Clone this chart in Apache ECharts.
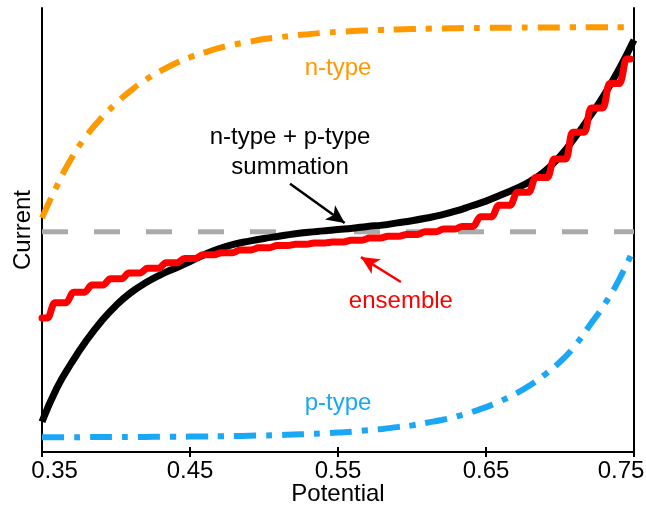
<!DOCTYPE html>
<html>
<head>
<meta charset="utf-8">
<script src="https://cdn.jsdelivr.net/npm/echarts@6/dist/echarts.min.js"></script>
<style>
  html, body { margin: 0; padding: 0; background: #fff; }
  #chart { width: 646px; height: 506px; }
</style>
</head>
<body>
<div id="chart"></div>
<script>
// ---- data ----
const xTicks = [0.35, 0.45, 0.55, 0.65, 0.75];
const potential = [0.35, 0.36, 0.37, 0.38, 0.39, 0.40, 0.41, 0.42, 0.43, 0.44, 0.45,
  0.46, 0.47, 0.48, 0.49, 0.50, 0.51, 0.52, 0.53, 0.54, 0.55,
  0.56, 0.57, 0.58, 0.59, 0.60, 0.61, 0.62, 0.63, 0.64, 0.65,
  0.66, 0.67, 0.68, 0.69, 0.70, 0.71, 0.72, 0.73, 0.74, 0.75];
const nType = [52.7, 59.9, 66.2, 71.2, 75.2, 78.5, 81.4, 83.8, 85.8, 87.5, 88.9,
  90.0, 91.0, 91.8, 92.4, 93.0, 93.4, 93.8, 94.1, 94.4, 94.6,
  94.8, 94.95, 95.07, 95.18, 95.27, 95.34, 95.4, 95.45, 95.49, 95.53,
  95.56, 95.58, 95.6, 95.62, 95.63, 95.64, 95.65, 95.66, 95.66, 95.67];
const pType = [3.33, 3.34, 3.34, 3.35, 3.36, 3.37, 3.38, 3.40, 3.42, 3.44, 3.47,
  3.51, 3.55, 3.6, 3.66, 3.73, 3.82, 3.93, 4.05, 4.2, 4.4,
  4.6, 4.9, 5.2, 5.6, 6.0, 6.6, 7.2, 8.0, 9.0, 10.1,
  11.5, 13.1, 15.1, 17.5, 20.3, 23.9, 28.5, 33.2, 38.9, 45.9];
const summation = [6.8, 14.4, 20.1, 25.1, 29.4, 33.0, 35.9, 38.1, 39.9, 41.4, 42.9,
  44.5, 45.8, 46.8, 47.5, 48.1, 48.6, 49.1, 49.5, 49.8, 50.1,
  50.4, 50.8, 51.1, 51.6, 52.1, 52.7, 53.4, 54.3, 55.4, 56.5,
  57.9, 59.3, 61.0, 63.3, 66.6, 70.8, 75.5, 80.5, 86.3, 92.8];
const ensembleX = [0.35, 0.3625, 0.375, 0.3875, 0.40, 0.4125, 0.425, 0.4375, 0.45, 0.4625,
  0.475, 0.4875, 0.50, 0.5125, 0.525, 0.5375, 0.55, 0.5625, 0.575, 0.5875,
  0.60, 0.6125, 0.625, 0.6375, 0.65, 0.6625, 0.675, 0.6875, 0.70, 0.7125,
  0.725, 0.7375, 0.7475];
const ensembleY = [30.2, 33.6, 36.0, 37.6, 39.0, 40.3, 41.4, 42.6, 43.6, 44.4,
  44.9, 45.5, 46.0, 46.5, 46.8, 47.1, 47.3, 47.7, 48.2, 48.6,
  49.0, 49.6, 50.2, 50.8, 53.0, 55.6, 58.5, 61.8, 66.0, 72.0,
  77.5, 83.0, 88.5];
const referenceX = [0.35, 0.75];
const referenceY = [49.6, 49.6];

// ---- build ----
const zip = (xs, ys) => xs.map((x, i) => [x, ys[i]]);
// staircase vertices: each level is held around its x, with short slanted risers between levels
function stairs(xs, ys, gap) {
  const out = [];
  for (let i = 0; i < xs.length; i++) {
    const left = i === 0 ? xs[0] : (xs[i - 1] + xs[i]) / 2 + gap;
    const right = i === xs.length - 1 ? xs[i] : (xs[i] + xs[i + 1]) / 2 - gap;
    out.push([left, ys[i]]);
    out.push([right, ys[i]]);
  }
  return out;
}
const FONT = "'Liberation Sans', Arial, Helvetica, sans-serif";
const FS = 24;

const chart = echarts.init(document.getElementById('chart'), null, { renderer: 'canvas' });

function annot(x, y, text, color) {
  return {
    coord: [x, y], symbol: 'circle', symbolSize: 0,
    label: { show: true, position: 'inside', formatter: text, color: color,
             fontFamily: FONT, fontSize: FS, lineHeight: 30 }
  };
}

const option = {
  animation: false,
  backgroundColor: '#ffffff',
  grid: { left: 42, top: 8, width: 592, height: 444, containLabel: false, outerBoundsMode: 'none' },
  xAxis: [{
    type: 'value', min: 0.35, max: 0.75, interval: 0.1, position: 'bottom',
    name: 'Potential', nameLocation: 'middle', nameGap: 30, nameMoveOverlap: false,
    nameTextStyle: { color: '#000', fontFamily: FONT, fontSize: FS },
    axisLine: { show: true, lineStyle: { color: '#000', width: 2 } },
    axisTick: { show: true, inside: true, length: 5, lineStyle: { color: '#000', width: 2 } },
    splitLine: { show: false },
    axisLabel: {
      color: '#000', fontFamily: FONT, fontSize: FS, margin: 7, hideOverlap: false,
      formatter: function (v) {
        const s = v.toFixed(2);
        if (Math.abs(v - xTicks[0]) < 1e-9) return '{l|' + s + '}';
        if (Math.abs(v - xTicks[xTicks.length - 1]) < 1e-9) return '{r|' + s + '}';
        return s;
      },
      rich: {
        l: { fontFamily: FONT, fontSize: FS, color: '#000', padding: [0, 0, 0, 25] },
        r: { fontFamily: FONT, fontSize: FS, color: '#000', padding: [0, 26, 0, 0] }
      }
    }
  }, {
    type: 'value', min: 0.35, max: 0.75, interval: 0.1, position: 'top',
    axisLine: { show: true, lineStyle: { color: '#000', width: 2 } },
    axisTick: { show: true, inside: true, length: 5, lineStyle: { color: '#000', width: 2 } },
    axisLabel: { show: false }, splitLine: { show: false }
  }],
  yAxis: [{
    type: 'value', min: 0, max: 100, position: 'left',
    name: 'Current', nameLocation: 'middle', nameGap: 7, nameRotate: 90, nameMoveOverlap: false,
    nameTextStyle: { color: '#000', fontFamily: FONT, fontSize: FS },
    axisLine: { show: true, lineStyle: { color: '#000', width: 2 } },
    axisTick: { show: false }, axisLabel: { show: false }, splitLine: { show: false }
  }, {
    type: 'value', min: 0, max: 100, position: 'right',
    axisLine: { show: true, lineStyle: { color: '#000', width: 2 } },
    axisTick: { show: false }, axisLabel: { show: false }, splitLine: { show: false }
  }],
  series: [
    {
      name: 'reference', type: 'line', data: zip(referenceX, referenceY),
      symbol: 'none', z: 1,
      lineStyle: { color: '#aaaaaa', width: 5, type: [26, 26], cap: 'butt' },
      markPoint: {
        silent: true, animation: false,
        data: [
          annot(0.55, 86.5, 'n-type', '#ff9900'),
          annot(0.5176, 67.4, 'n-type + p-type\nsummation', '#000000'),
          annot(0.5925, 34.0, 'ensemble', '#ff0000'),
          annot(0.55, 11.0, 'p-type', '#1aa7f5')
        ]
      }
    },
    {
      name: 'n-type', type: 'line', data: zip(potential, nType), smooth: true,
      symbol: 'none', z: 2,
      lineStyle: { color: '#ff9900', width: 6, type: [22, 10, 6, 10], cap: 'butt' }
    },
    {
      name: 'p-type', type: 'line', data: zip(potential, pType), smooth: true,
      symbol: 'none', z: 2,
      lineStyle: { color: '#1aa7f5', width: 6, type: [22, 10, 6, 10], cap: 'butt' }
    },
    {
      name: 'summation', type: 'line', data: zip(potential, summation), smooth: true,
      symbol: 'none', z: 3,
      lineStyle: { color: '#000000', width: 7 },
      markLine: {
        silent: true, animation: false, symbol: ['none', 'arrow'], symbolSize: [13, 18],
        label: { show: false },
        lineStyle: { color: '#000000', width: 2.5, type: 'solid' },
        data: [[{ coord: [0.5176, 60.4] }, { coord: [0.5545, 51.6] }]]
      }
    },
    {
      name: 'ensemble', type: 'line', data: stairs(ensembleX, ensembleY, 0.0025), smooth: 0.3,
      symbol: 'none', z: 4,
      lineStyle: { color: '#ff0000', width: 7, join: 'round', cap: 'round' },
      markLine: {
        silent: true, animation: false, symbol: ['none', 'arrow'], symbolSize: [13, 18],
        label: { show: false },
        lineStyle: { color: '#ff0000', width: 2.5, type: 'solid' },
        data: [[{ coord: [0.5925, 38.3] }, { coord: [0.5655, 43.9] }]]
      }
    }
  ]
};
chart.setOption(option);
</script>
</body>
</html>
